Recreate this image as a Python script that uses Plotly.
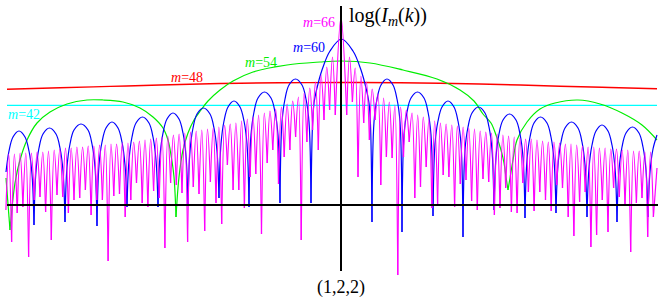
import plotly.graph_objects as go

# ---- readings (x: horizontal k position, v: vertical reading measured downward from top) ----
BASE = 205  # level of the k-axis in the reading scale; log value = BASE - reading

cyan_x = [7, 657]
cyan_v = [105.3, 105.3]

red_x = [7, 60, 110, 160, 220, 280, 341, 400, 440, 500, 560, 610, 657]
red_v = [89.3, 87.8, 86.4, 85, 83.5, 82.8, 82.5, 82.8, 83.3, 84.5, 86.2, 87.5, 88.7]

green_x = [6, 10, 15, 20, 27, 37, 50, 67, 87, 103, 123, 140, 153, 163, 168, 171, 174, 176,
           179, 183, 188, 194, 201, 208, 220, 233, 253, 287, 320, 341, 370, 403, 437, 460,
           474, 483, 491, 496, 501, 504, 506, 508, 510, 513, 517, 527, 540, 555, 578, 600,
           622, 642, 657]
green_v = [178, 230, 183, 160, 140, 123, 112, 104, 100, 100, 102, 108, 117, 128, 140, 155, 177, 217,
           177, 150, 133, 120, 110, 101, 90, 81, 72, 65, 62, 61, 63, 70, 79, 90,
           101, 114, 123, 135, 150, 163, 177, 190, 178, 160, 140, 122, 109, 103, 100, 104,
           113, 125, 140]

blue_x = [6, 9, 13, 19, 25, 29, 32, 34,
          36, 39, 43, 49.5, 56, 60, 63, 65,
          67, 70, 74, 81, 88, 92, 95, 97,
          99, 102, 106, 112, 118, 122, 125, 127,
          129, 132, 136, 142.5, 149, 153, 156, 158,
          160, 163, 167, 173, 179, 183, 186, 188,
          190, 193, 197, 203.5, 210, 214, 217, 219,
          221, 224, 228, 234, 240, 244, 247, 249,
          251, 254, 258, 264.5, 271, 275, 278, 280,
          282, 285, 289, 295.5, 302, 306, 309, 311,
          312.5, 314, 317, 322, 330, 341.5, 353, 361, 366, 369, 370.5, 372,
          374, 377, 381, 387, 393, 397, 400, 402,
          404, 407, 411, 417.5, 424, 428, 431, 433,
          435, 438, 442, 448, 454, 458, 461, 463,
          465, 468, 472, 478.5, 485, 489, 492, 494,
          496, 499, 503, 509.5, 516, 520, 523, 525,
          527, 530, 534, 540.5, 547, 551, 554, 556,
          558, 561, 565, 571.5, 578, 582, 585, 587,
          589, 592, 596, 602, 608, 612, 615, 617,
          619, 622, 626, 632.5, 639, 643, 646, 648,
          650, 653, 657]
blue_v = [172, 151, 137, 131, 137, 151, 174, 225,
          171, 148, 134, 128, 134, 148, 171, 222,
          167, 144, 130, 124, 130, 144, 167, 226,
          165, 142, 128, 122, 128, 142, 165, 207,
          160, 137, 123, 117, 123, 137, 160, 207,
          156, 133, 119, 113, 119, 133, 156, 205,
          151, 128, 114, 108, 114, 128, 151, 198,
          144, 121, 107, 101, 107, 121, 144, 207,
          135, 112, 98, 92, 98, 112, 135, 203,
          122, 99, 85, 79, 85, 99, 122, 203,
          125, 103, 88, 70, 51, 39, 51, 70, 88, 103, 125, 222,
          122, 99, 85, 79, 85, 99, 122, 232,
          135, 112, 98, 92, 98, 112, 135, 216,
          144, 121, 107, 101, 107, 121, 144, 237,
          150, 127, 113, 107, 113, 127, 150, 210,
          157, 134, 120, 114, 120, 134, 157, 218,
          160, 137, 123, 117, 123, 137, 160, 213,
          165, 142, 128, 122, 128, 142, 165, 217,
          168, 145, 131, 125, 131, 145, 168, 222,
          170, 147, 133, 127, 133, 147, 170, 217,
          172, 149, 135]

mag_trough_x = [5.9, 11.6, 17.2, 22.9, 28.6, 34.3, 40, 45.6, 51.3, 57, 62.7, 68.4, 74, 79.7,
                85.4, 91.1, 96.8, 102.4, 108.1, 113.8, 119.5, 125.2, 130.8, 136.5, 142.2,
                147.9, 153.6, 159.2, 164.9, 170.6, 176.3, 182, 187.6, 193.3, 199, 204.7,
                210.4, 216, 221.7, 227.4, 233.1, 238.8, 244.4, 250.1, 255.8, 261.5, 267.2,
                272.8, 278.5, 284.2, 289.9, 295.6, 301.2, 306.9, 312.6, 318.3, 324, 329.6,
                335.3,
                346.7, 352.4, 358, 363.7, 369.4, 375.1, 380.8, 386.4, 392.1, 397.8, 403.5,
                409.2, 414.8, 420.5, 426.2, 431.9, 437.6, 443.2, 448.9, 454.6, 460.3, 466,
                471.6, 477.3, 483, 488.7, 494.4, 500, 505.7, 511.4, 517.1, 522.8, 528.4,
                534.1, 539.8, 545.5, 551.2, 556.8, 562.5, 568.2, 573.9, 579.6, 585.2, 590.9,
                596.6, 602.3, 608, 613.6, 619.3, 625, 630.7, 636.4, 642, 647.7, 653.4]
mag_trough_v = [210, 242, 213, 207, 257, 200, 197, 212, 240, 195, 197, 213, 200, 198,
                190, 215, 200, 200, 261, 196, 194, 217, 200, 183, 203,
                207, 191, 198, 248, 183, 185, 193, 242, 187, 194, 231,
                182, 203, 224, 165, 190, 190, 208, 177, 174, 234, 163,
                150, 184, 157, 150, 137, 240, 142, 130, 150, 120, 110,
                115,
                115, 102, 177, 123, 140, 120, 185, 157, 158, 275, 157,
                142, 198, 187, 167, 208, 205, 175, 177, 207, 184, 180,
                201, 210, 179, 182, 215, 208, 188, 212, 213, 183, 192,
                211, 192, 200, 211, 185, 188, 217, 236, 202, 192, 247,
                235, 200, 232, 188, 197, 205, 252, 203, 198, 237, 217]
mag_peak_x = [8.7, 14.4, 20.1, 25.8, 31.4, 37.1, 42.8, 48.5, 54.2, 59.8, 65.5, 71.2, 76.9,
              82.6, 88.2, 93.9, 99.6, 105.3, 111, 116.6, 122.3, 128, 133.7, 139.4, 145,
              150.7, 156.4, 162.1, 167.8, 173.4, 179.1, 184.8, 190.5, 196.2, 201.8, 207.5,
              213.2, 218.9, 224.6, 230.2, 235.9, 241.6, 247.3, 253, 258.6, 264.3, 270,
              275.7, 281.4, 287.1, 292.7, 298.4, 304.1, 309.8, 315.5, 321.1, 326.8, 332.5,
              341,
              349.5, 355.2, 360.9, 366.5, 372.2, 377.9, 383.6, 389.3, 394.9, 400.6, 406.3,
              412, 417.7, 423.3, 429, 434.7, 440.4, 446.1, 451.8, 457.4, 463.1, 468.8,
              474.5, 480.2, 485.8, 491.5, 497.2, 502.9, 508.6, 514.2, 519.9, 525.6, 531.3,
              537, 542.6, 548.3, 554, 559.7, 565.4, 571, 576.7, 582.4, 588.1, 593.8,
              599.4, 605.1, 610.8, 616.5, 622.2, 627.8, 633.5, 639.2, 644.9, 650.6]
mag_peak_v = [154, 154, 153, 153, 153, 152, 152, 151, 150, 149, 148, 148, 147,
              147, 146, 146, 145, 145, 144, 144, 143, 143, 142, 141, 140,
              139, 138, 137, 136, 135, 134, 133, 132, 131, 130, 129,
              128, 127, 125, 124, 123, 121, 119, 117, 115, 113, 111,
              109, 107, 104, 101, 97, 93, 88, 82, 75, 67, 57,
              17,
              57, 68, 76, 82, 89, 94, 98, 102, 105, 107, 110,
              113, 115, 117, 119, 121, 123, 124, 125, 126, 127, 128,
              129, 131, 132, 133, 134, 135, 136, 137, 138, 139, 139,
              140, 141, 142, 142, 143, 144, 144, 145, 146, 147, 147,
              148, 148, 149, 149, 150, 150, 151, 151, 152, 152]
mag_end_x = [657]
mag_end_v = [168]

axis_label_y = "log(<i>I</i><sub><i>m</i></sub>(<i>k</i>))"
axis_label_x = "(1,2,2)"
series_names = ["<i>m</i>=42", "<i>m</i>=48", "<i>m</i>=54", "<i>m</i>=60", "<i>m</i>=66"]
series_colors = ["#00ffff", "#ff0000", "#00ee00", "#0000ff", "#ff00ff"]


def lv(vals):
    return [BASE - v if v is not None else None for v in vals]


def split_at_cusps(xs, vs):
    """Break a curve into separate arcs at its cusps (local minima of log I),
    so each arc is smoothed on its own while the cusps stay sharp."""
    ox, ov = [xs[0]], [vs[0]]
    for i in range(1, len(xs)):
        ox.append(xs[i]); ov.append(vs[i])
        if 0 < i < len(xs) - 1 and vs[i] > vs[i - 1] and vs[i] > vs[i + 1]:
            ox += [None, xs[i]]; ov += [None, vs[i]]
    return ox, ov


# magenta: interleave troughs and peaks
mag_x, mag_v = [], []
for i in range(len(mag_trough_x)):
    mag_x.append(mag_trough_x[i]); mag_v.append(mag_trough_v[i])
    if i < len(mag_peak_x):
        mag_x.append(mag_peak_x[i]); mag_v.append(mag_peak_v[i])
mag_x += mag_end_x
mag_v += mag_end_v

fig = go.Figure()
series = [(cyan_x, cyan_v, 1.2, False), (red_x, red_v, 1.4, False),
          (green_x, green_v, 1.2, True), (blue_x, blue_v, 1.2, True),
          (mag_x, mag_v, 1.2, True)]
for (xs, vs, w, cusp), name, col in zip(series, series_names, series_colors):
    if cusp:
        xs, vs = split_at_cusps(xs, vs)
    fig.add_trace(go.Scatter(x=xs, y=lv(vs), mode="lines", name=name, connectgaps=False,
                             line=dict(color=col, width=w, shape="spline", smoothing=1.0),
                             hoverinfo="skip", showlegend=False))

# axes
fig.add_shape(type="line", x0=7, x1=658, y0=0, y1=0, line=dict(color="black", width=2), layer="above")
fig.add_shape(type="line", x0=341, x1=341, y0=BASE - 6, y1=BASE - 271, line=dict(color="black", width=2), layer="above")

serif = "Liberation Serif"
fig.add_annotation(x=347, y=BASE - 16, text=axis_label_y, showarrow=False, xanchor="left", yanchor="middle",
                   font=dict(family=serif, size=20, color="black"))
fig.add_annotation(x=341, y=BASE - 287, text=axis_label_x, showarrow=False, xanchor="center", yanchor="middle",
                   font=dict(family=serif, size=18, color="black"))

label_pos = [(6, 114, "left"), (205, 77, "right"), (279, 62, "right"), (327, 47, "right"), (337, 22, "right")]
for (lx, ly, anc), name, col in zip(label_pos, series_names, series_colors):
    fig.add_annotation(x=lx, y=BASE - ly, text=name, showarrow=False, xanchor=anc, yanchor="middle",
                       font=dict(family=serif, size=14, color=col))

fig.update_layout(width=664, height=300, margin=dict(l=0, r=0, t=0, b=0),
                  plot_bgcolor="white", paper_bgcolor="white",
                  xaxis=dict(range=[0, 664], visible=False, fixedrange=True),
                  yaxis=dict(range=[BASE - 300, BASE], visible=False, fixedrange=True))
fig.write_html("out.html", config={"displayModeBar": False, "staticPlot": True},
               post_script="document.body.style.margin='0px';document.body.style.padding='0px';")
